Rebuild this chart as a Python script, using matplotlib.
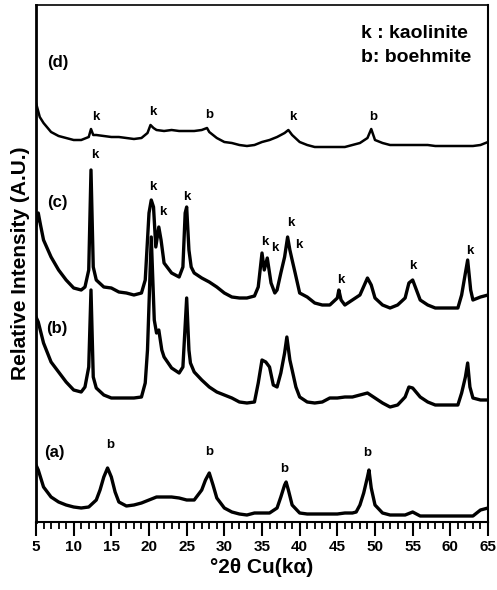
import matplotlib
matplotlib.use('Agg')
import matplotlib.pyplot as plt
from matplotlib.ticker import MultipleLocator

plt.rcParams['font.family'] = ['Liberation Sans', 'DejaVu Sans']
plt.rcParams['font.weight'] = 'bold'

# XRD patterns (2theta, relative intensity in arbitrary units)
theta_a = [5, 5.3, 6, 7, 8, 9, 10, 11, 12, 13, 13.5, 14, 14.5, 15, 15.5, 16, 17, 18, 19, 20,
           21, 22, 23, 24, 25, 26, 27, 27.5, 28, 28.5, 29, 30, 31, 32, 33, 34, 35, 36, 37, 37.5,
           38, 38.2, 38.5, 39, 40, 41, 42, 43, 44, 45, 46, 47, 47.5, 48, 48.5, 49, 49.2, 49.5, 50, 51,
           52, 53, 54, 55, 56, 57, 58, 59, 60, 61, 62, 63, 64, 65]
int_a = [57, 52, 35, 25, 20, 17, 15, 14, 15, 22, 32, 45, 54, 45, 30, 20, 16, 17, 19, 22,
         25, 25, 25, 24, 22, 22, 32, 42, 49, 37, 24, 14, 10, 8, 7, 9, 9, 9, 14, 25,
         37, 40, 32, 17, 9, 8, 8, 8, 8, 8, 9, 9, 10, 17, 29, 45, 52, 34, 17, 9,
         7, 7, 7, 10, 6, 6, 6, 6, 6, 6, 6, 6, 12, 14]

theta_b = [5, 5.3, 6, 7, 8, 9, 10, 11, 11.5, 12, 12.3, 12.6, 13, 14, 15, 16, 17, 18, 19, 19.5,
           19.8, 20.3, 20.7, 21, 21.3, 21.7, 22, 23, 24, 24.5, 25, 25.3, 25.5, 26, 27, 28, 29, 30, 31, 32,
           33, 34, 34.5, 35, 35.5, 36, 36.5, 37, 37.5, 38, 38.3, 38.7, 39, 39.5, 40, 41, 42, 43, 44, 45,
           46, 47, 48, 49, 50, 51, 52, 53, 54, 54.5, 55, 56, 57, 58, 59, 60, 61, 61.5, 62, 62.3,
           62.6, 63, 64, 65]
int_b = [205, 200, 179, 160, 150, 140, 132, 130, 135, 155, 232, 145, 134, 127, 124, 124, 124, 124, 125, 139,
         172, 285, 202, 189, 192, 172, 165, 154, 149, 155, 224, 172, 159, 150, 142, 135, 130, 127, 124, 120,
         119, 120, 139, 162, 160, 155, 137, 135, 149, 169, 185, 162, 152, 135, 125, 120, 119, 120, 124, 124,
         125, 125, 127, 129, 124, 119, 115, 117, 125, 135, 134, 125, 120, 117, 117, 117, 117, 129, 145, 159,
         135, 124, 122, 122]

theta_c = [5, 5.3, 5.6, 6, 7, 8, 9, 10, 11, 11.5, 12, 12.3, 12.6, 13, 14, 15, 16, 17, 18, 19,
           19.5, 19.8, 20, 20.3, 20.6, 20.9, 21.3, 21.6, 22, 23, 24, 24.5, 24.8, 25, 25.3, 25.6, 26, 27, 28, 29,
           30, 31, 32, 33, 34, 34.5, 35, 35.3, 35.7, 36.2, 36.7, 37, 37.5, 38, 38.4, 38.7, 39, 39.4, 40, 41,
           42, 43, 44, 45, 45.2, 45.5, 46, 47, 48, 49, 49.5, 50, 51, 52, 53, 54, 54.5, 55, 55.5, 56,
           57, 58, 59, 60, 61, 61.5, 62, 62.3, 62.7, 63, 64, 65]
int_c = [297, 309, 297, 282, 265, 252, 242, 234, 232, 235, 252, 352, 255, 242, 235, 234, 230, 229, 227, 229,
         242, 282, 309, 322, 315, 275, 295, 282, 259, 249, 245, 255, 309, 315, 272, 255, 249, 244, 240, 235,
         229, 225, 224, 224, 226, 235, 269, 252, 264, 239, 229, 232, 249, 265, 285, 272, 262, 249, 229, 225,
         219, 217, 217, 224, 232, 222, 217, 222, 227, 244, 237, 224, 217, 214, 217, 224, 239, 242, 232, 222,
         217, 214, 214, 214, 214, 227, 249, 262, 232, 222, 225, 227]

theta_d = [5, 5.5, 6, 7, 8, 9, 10, 11, 12, 12.3, 12.6, 13, 14, 15, 16, 17, 18, 19, 19.8, 20.2,
           20.6, 21, 22, 23, 24, 25, 26, 27, 27.7, 28, 29, 30, 31, 32, 33, 34, 35, 36, 37, 38,
           38.5, 39, 40, 41, 42, 43, 44, 45, 46, 47, 48, 49, 49.5, 50, 51, 52, 53, 54, 55, 56,
           57, 58, 59, 60, 61, 62, 63, 64, 65]
int_d = [419, 405, 399, 390, 386, 384, 382, 382, 385, 393, 387, 387, 386, 385, 385, 384, 383, 384, 389, 397,
         394, 392, 391, 392, 391, 391, 391, 392, 394, 390, 384, 380, 379, 377, 376, 377, 380, 382, 385, 389,
         392, 387, 380, 377, 375, 375, 375, 375, 375, 377, 379, 384, 393, 382, 379, 377, 377, 377, 377, 377,
         377, 376, 376, 376, 376, 376, 376, 377, 380]

# peak markers: (2theta, height, letter)
peak_marks = [
    (12.9, 405, 'k'), (20.45, 410, 'k'), (28.05, 407, 'b'), (39.1, 405, 'k'), (49.7, 405, 'b'),
    (12.8, 367, 'k'), (20.5, 335, 'k'), (21.8, 310, 'k'), (25.0, 325, 'k'), (35.4, 280, 'k'),
    (36.65, 274, 'k'), (38.8, 299, 'k'), (39.85, 277, 'k'), (45.4, 242, 'k'), (55.0, 256, 'k'),
    (62.6, 271, 'k'),
    (14.8, 77, 'b'), (28.05, 70, 'b'), (37.9, 53, 'b'), (48.9, 69, 'b'),
]
curve_names = ['(d)', '(c)', '(b)', '(a)']
name_pos = [(7.9, 460), (7.8, 319), (7.8, 194), (7.5, 69)]

fig = plt.figure(figsize=(4.97, 5.90), dpi=100)
ax = fig.add_axes([36/497, 68/590, 452/497, 517/590])

ax.plot(theta_d, int_d, color='black', lw=1.8)
ax.plot(theta_c, int_c, color='black', lw=2.4)
ax.plot(theta_b, int_b, color='black', lw=2.4)
ax.plot(theta_a, int_a, color='black', lw=2.4)

for x, y, s in peak_marks:
    ax.text(x, y, s, ha='center', va='center', fontsize=9.5, fontweight='bold')
for name, (x, y) in zip(curve_names, name_pos):
    ax.text(x, y, name, ha='center', va='center', fontsize=12, fontweight='bold')

ax.text(48.2, 489, 'k : kaolinite', ha='left', va='center', fontsize=14, fontweight='bold')
ax.text(48.2, 465, 'b: boehmite', ha='left', va='center', fontsize=14, fontweight='bold')

ax.set_xlim(5, 65)
ax.set_ylim(0, 517)
ax.xaxis.set_major_locator(MultipleLocator(5))
ax.xaxis.set_minor_locator(MultipleLocator(1))
ax.tick_params(axis='x', which='major', direction='out', length=10, width=1.5, labelsize=11, pad=3)
ax.tick_params(axis='x', which='minor', direction='out', length=5, width=1.3)
ax.set_yticks([])
for lab in ax.get_xticklabels():
    lab.set_fontweight('bold')
for side in ['right', 'bottom']:
    ax.spines[side].set_linewidth(1.5)
ax.spines['top'].set_linewidth(1.2)
ax.spines['left'].set_linewidth(2)

ax.set_xlabel('°2θ Cu(kα)', fontsize=15, fontweight='bold', labelpad=3)
ax.set_ylabel('Relative Intensity (A.U.)', fontsize=15, fontweight='bold', labelpad=4)

fig.savefig('out.png', dpi=100)
